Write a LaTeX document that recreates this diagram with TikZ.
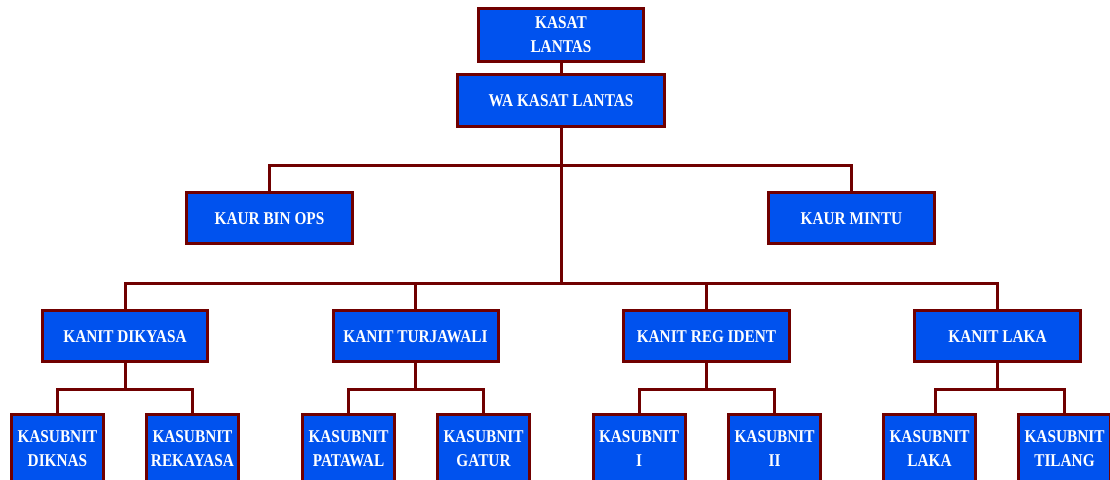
\documentclass[tikz,border=0pt]{standalone}
\usepackage{fontspec}
\setmainfont{Liberation Serif}[FakeStretch=0.85]
\definecolor{boxblue}{RGB}{0,82,238}
\definecolor{lineRed}{RGB}{112,0,0}
\begin{document}
\begin{tikzpicture}[x=1pt,y=-1pt,
  box/.style={draw=lineRed, line width=3pt, fill=boxblue, text=white,
    font=\fontsize{18}{24}\selectfont\bfseries, align=center, inner sep=0pt},
  single/.style={box, text height=12pt, text depth=0pt},
  conn/.style={draw=lineRed, line width=3pt}]
\useasboundingbox (0,0) rectangle (1110,479);
\clip (0,0) rectangle (1110,479);
% top
\node[box, minimum width=165pt, minimum height=53pt] (kasat) at (561,35) {KASAT\\LANTAS};
\node[single, minimum width=207pt, minimum height=52pt] (wakasat) at (561,100.5) {WA KASAT LANTAS};
% kaur
\node[single, minimum width=166pt, minimum height=51pt] (binops) at (269.5,218) {KAUR BIN OPS};
\node[single, minimum width=166pt, minimum height=51pt] (mintu) at (851.5,218) {KAUR MINTU};
% kanit
\node[single, minimum width=165pt, minimum height=51pt] (dikyasa) at (125,336) {KANIT DIKYASA};
\node[single, minimum width=165pt, minimum height=51pt] (turjawali) at (415.5,336) {KANIT TURJAWALI};
\node[single, minimum width=166pt, minimum height=51pt] (regident) at (706.5,336) {KANIT REG IDENT};
\node[single, minimum width=166pt, minimum height=51pt] (laka) at (997.5,336) {KANIT LAKA};
% kasubnit
\tikzset{sub/.style={box, minimum width=92pt, minimum height=69pt}}
\node[sub] (diknas) at (57.5,449) {KASUBNIT\\DIKNAS};
\node[sub] (rekayasa) at (192.5,449) {KASUBNIT\\REKAYASA};
\node[sub] (patawal) at (348.5,449) {KASUBNIT\\PATAWAL};
\node[sub] (gatur) at (483.5,449) {KASUBNIT\\GATUR};
\node[sub] (sub1) at (639,449) {KASUBNIT\\I};
\node[sub] (sub2) at (774.5,449) {KASUBNIT\\II};
\node[sub] (lakasub) at (929.5,449) {KASUBNIT\\LAKA};
\node[sub] (tilang) at (1064.5,449) {KASUBNIT\\TILANG};
% bus coordinates
\coordinate (b1) at (561,165);
\coordinate (b2) at (561,283);
\coordinate (c1) at (125,389);
\coordinate (c2) at (415.5,389);
\coordinate (c3) at (706.5,389);
\coordinate (c4) at (997.5,389);
% connectors
\begin{scope}[on background layer/.try]
\end{scope}
\draw[conn] (kasat.south) -- (wakasat.north);
\draw[conn] (wakasat.south) -- (b2);
\draw[conn] (binops.north) |- (b1) -| (mintu.north);
\draw[conn] (dikyasa.north) |- (b2) -| (laka.north);
\draw[conn] (turjawali.north |- b2) -- (turjawali.north);
\draw[conn] (regident.north |- b2) -- (regident.north);
\draw[conn] (dikyasa.south) -- (c1);
\draw[conn] (diknas.north) |- (c1) -| (rekayasa.north);
\draw[conn] (turjawali.south) -- (c2);
\draw[conn] (patawal.north) |- (c2) -| (gatur.north);
\draw[conn] (regident.south) -- (c3);
\draw[conn] (sub1.north) |- (c3) -| (sub2.north);
\draw[conn] (laka.south) -- (c4);
\draw[conn] ([xshift=6pt]lakasub.north) |- (c4) -| (tilang.north);
\end{tikzpicture}
\end{document}
